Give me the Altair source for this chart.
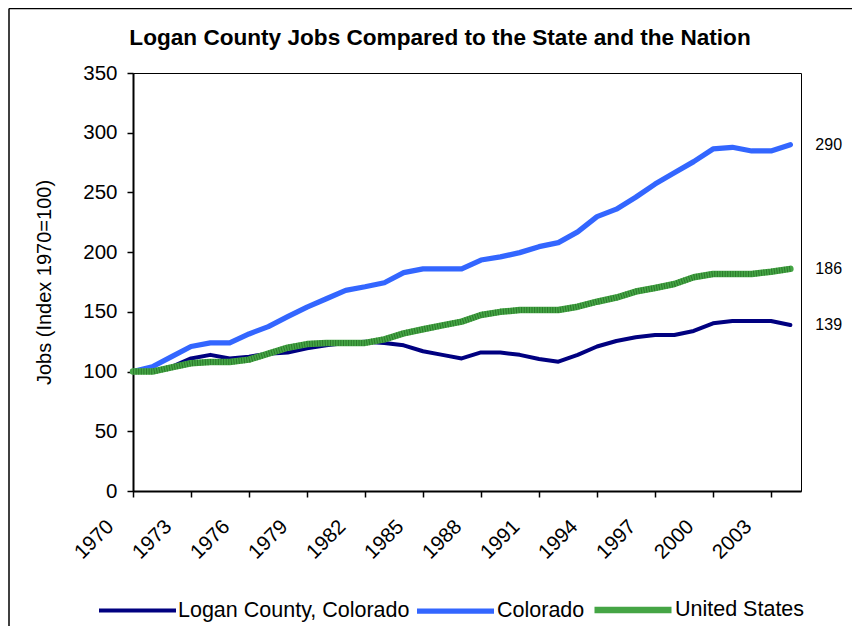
import altair as alt
import pandas as pd

years = list(range(1970, 2005))
series_names = ["Logan County, Colorado", "Colorado", "United States"]
logan = [100, 100, 104, 111, 114, 111, 112.5, 115, 116, 119.5, 122, 124, 125, 124, 122, 117,
         114, 111, 116, 116, 114, 110.5, 108.3, 114, 121, 125.6, 128.7, 130.6, 130.6, 134,
         140.4, 142.4, 142.4, 142.4, 139]
colorado = [100, 104, 112.5, 121, 124, 124, 131.5, 137.6, 146, 154, 161, 168, 171, 174.4,
            182.8, 186, 186, 186, 193.4, 196, 199.6, 204.6, 208, 217, 229.7, 236, 246, 257,
            266.5, 275.8, 286.4, 287.8, 284.7, 284.7, 290]
united_states = [100, 100, 103.5, 107, 108, 108, 110, 115, 120, 123, 124, 124, 124, 127, 132,
                 135.4, 138.7, 141.8, 147.4, 150, 151.5, 151.5, 151.5, 154.3, 158.5, 162, 167,
                 170, 173.3, 179, 181.7, 181.7, 181.7, 183.6, 186]
end_labels = [139, 290, 186]
x_ticks = list(range(1970, 2004, 3))
y_ticks = list(range(0, 351, 50))
title_text = "Logan County Jobs Compared to the State and the Nation"

colors = ["#000080", "#3366FF", "#45A545"]
widths = [4, 6.5, 6]

rows = []
for name, vals in zip(series_names, [logan, colorado, united_states]):
    for yr, v in zip(years, vals):
        rows.append({"year": yr, "value": v, "series": name})
df = pd.DataFrame(rows)
us_df = df[df["series"] == "United States"]

lab_df = pd.DataFrame({"series": series_names, "year": [years[-1]] * 3, "value": end_labels})

FONT = "Liberation Sans"
W, H = 668, 418

xscale = alt.Scale(domain=[1970, 2004.55], nice=False, zero=False)
yscale = alt.Scale(domain=[0, 350], nice=False)

lines = alt.Chart(df).mark_line(strokeCap="round", strokeJoin="round").encode(
    x=alt.X("year:Q", scale=xscale,
            axis=alt.Axis(values=x_ticks, format="d", title=None, labelAngle=-45,
                          labelAlign="right", labelBaseline="top", labelPadding=19,
                          labelOffset=-30, labelFontSize=20.5, tickSize=6, grid=False,
                          labelFlush=False, labelOverlap=False)),
    y=alt.Y("value:Q", scale=yscale,
            axis=alt.Axis(values=y_ticks, title="Jobs (Index 1970=100)", grid=False,
                          tickSize=6, labelPadding=10, labelFontSize=20.5,
                          titleFontSize=20, titleFontWeight="normal", titlePadding=28)),
    color=alt.Color("series:N", scale=alt.Scale(domain=series_names, range=colors),
                    legend=alt.Legend(title=None)),
    strokeWidth=alt.StrokeWidth("series:N", scale=alt.Scale(domain=series_names, range=widths),
                                legend=alt.Legend(title=None)),
)

stripes = alt.Chart(us_df).mark_line(color="#2B7A2B", strokeWidth=6, strokeDash=[1, 1.6],
                                     strokeJoin="round").encode(
    x=alt.X("year:Q", scale=xscale),
    y=alt.Y("value:Q", scale=yscale),
)

labels = alt.Chart(lab_df).mark_text(align="left", baseline="middle", dx=25, fontSize=16,
                                     font=FONT, color="black", clip=False).encode(
    x=alt.X("year:Q", scale=xscale),
    y=alt.Y("value:Q", scale=yscale),
    text=alt.Text("value:Q", format="d"),
)

one = pd.DataFrame({"t": [title_text]})
title = alt.Chart(one).mark_text(align="center", baseline="alphabetic", fontSize=22.6,
                                 fontWeight="bold", font=FONT, color="black").encode(
    x=alt.value(307), y=alt.value(-28), text="t:N")

left_border = alt.Chart(one).mark_rule(color="black", strokeWidth=1.5).encode(
    x=alt.value(-124), y=alt.value(-64.5), y2=alt.value(H + 140))
top_border = alt.Chart(one).mark_rule(color="black", strokeWidth=1.5).encode(
    x=alt.value(-124), x2=alt.value(W + 60), y=alt.value(-64.5))

chart = alt.layer(lines, stripes, labels, title, left_border, top_border).properties(
    width=W, height=H,
    autosize=alt.AutoSizeParams(type="none"),
    padding={"left": 125, "top": 65, "right": 51, "bottom": 135},
).configure_view(stroke="black", strokeWidth=1).configure_axis(
    labelFont=FONT, titleFont=FONT, labelColor="black", titleColor="black",
    domainColor="black", tickColor="black", domainWidth=2, tickWidth=1.5,
).configure_legend(
    orient="none", legendX=-36, legendY=495, direction="horizontal",
    symbolType="stroke", symbolSize=5929, labelFontSize=21.5, labelFont=FONT,
    labelColor="black", labelOffset=0, columnPadding=-4, padding=0, labelLimit=0,
)

chart.save("out.html", embed_options={"renderer": "svg", "actions": False})
